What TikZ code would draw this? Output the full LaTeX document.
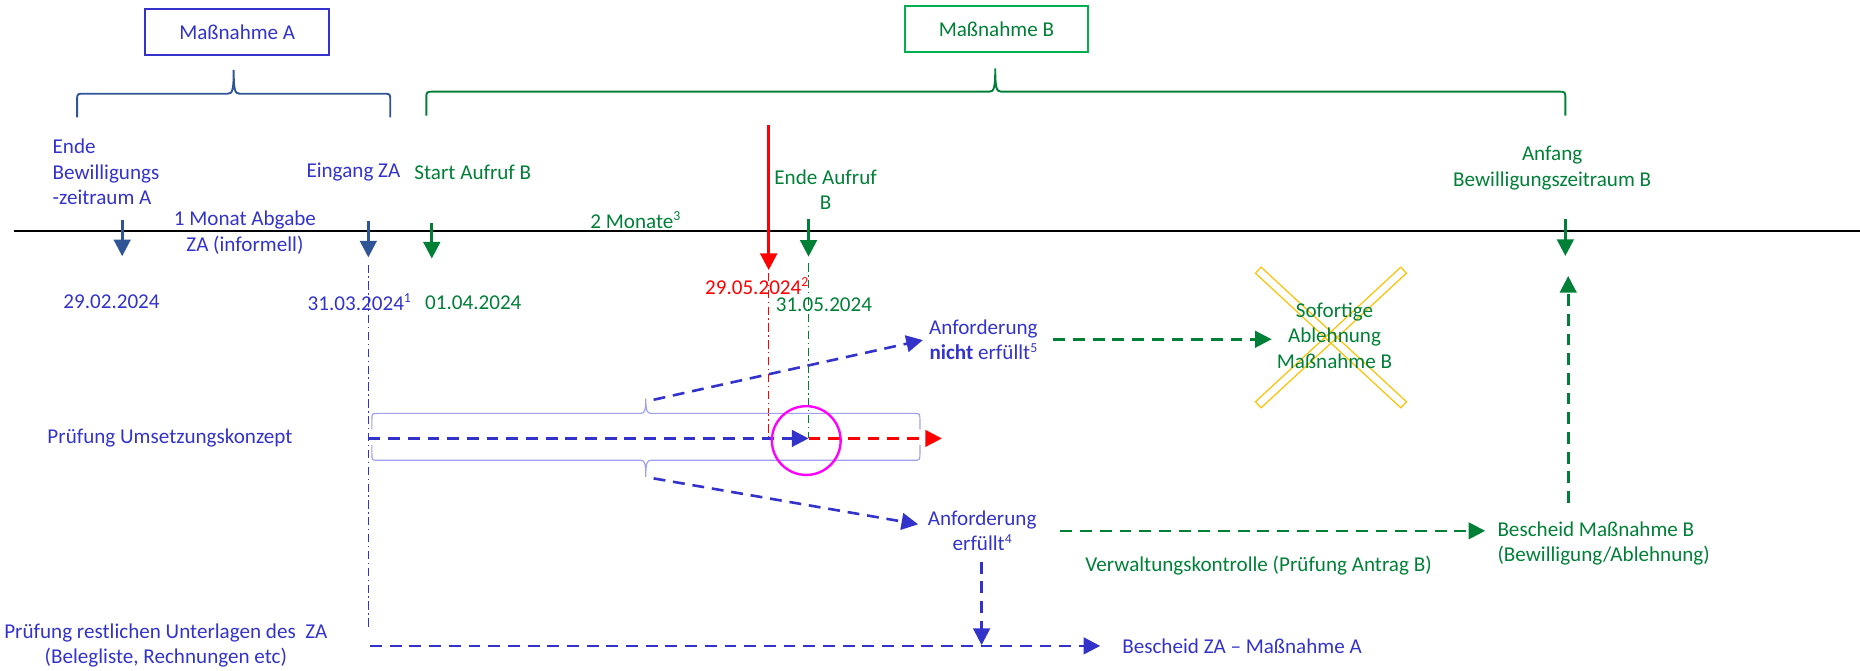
\documentclass[tikz,border=0pt]{standalone}
\usepackage{fontspec}
\setmainfont{Carlito}
\usetikzlibrary{arrows.meta}
\definecolor{tblue}{RGB}{51,51,204}
\definecolor{dblue}{RGB}{47,85,151}
\definecolor{tgreen}{RGB}{0,128,55}
\definecolor{bgreen}{RGB}{0,176,80}
\definecolor{lav}{RGB}{160,160,235}
\definecolor{xyellow}{RGB}{255,192,0}
\definecolor{mag}{RGB}{255,0,255}
\definecolor{tred}{RGB}{255,0,0}
\newcommand{\fnref}[1]{\raisebox{0.75ex}{\fontsize{5.8}{6}\selectfont #1}}
\begin{document}
\begin{tikzpicture}[x=0.5pt,y=-0.5pt,
  font=\fontsize{8.9}{10.8}\selectfont,
  lbl/.style={inner sep=0pt, align=center},
  tipA/.style={-{Triangle[length=7pt,width=7pt]}},
  tlarrow/.style={line width=1.2pt, tipA},
  dsh/.style={line width=1.1pt, dash pattern=on 5pt off 3.3pt, tipA},
  ddot/.style={line width=0.5pt, dash pattern=on 3.5pt off 1.5pt on 0.6pt off 1.5pt},
  brc/.style={line width=0.8pt},
  capsule/.style={line width=0.5pt, draw=lav},
  boxed/.style={draw, line width=0.85pt, minimum width=77.5pt, minimum height=19.5pt, inner sep=0pt},
  xbar/.style={draw=xyellow, line width=0.5pt, minimum width=83.5pt, minimum height=3.5pt, inner sep=0pt}
]
\useasboundingbox (0,0) rectangle (1568,565);

% boxes
\node[boxed, draw=tblue, text=tblue] (mA) at (200,27) {Maßnahme A};
\node[boxed, draw=bgreen, text=tgreen] (mB) at (840,24.5) {Maßnahme B};

% braces
\draw[brc, dblue] (65,99) -- (65,85) .. controls (65,79) .. (71,79) -- (192,79)
  .. controls (196,79) and (197,76) .. (197,59)
  .. controls (197,76) and (198,79) .. (202,79) -- (323,79)
  .. controls (329,79) .. (329,85) -- (329,99);
\draw[brc, tgreen] (359.4,97.5) -- (359.4,83.5) .. controls (359.4,77.3) .. (365.4,77.3) -- (834,77.3)
  .. controls (838,77.3) and (839,74) .. (839,57.7)
  .. controls (839,74) and (840,77.3) .. (844,77.3) -- (1313.6,77.3)
  .. controls (1319.6,77.3) .. (1319.6,83.5) -- (1319.6,97.5);

% timeline
\coordinate (tlL) at (12,195);
\coordinate (tlR) at (1568,195);
\draw[line width=1pt] (tlL) -- (tlR);

% labels above
\node[lbl, anchor=west, align=left, text=tblue] (endeA) at (44,145) {Ende\\Bewilligungs\\-zeitraum A};
\node[lbl, anchor=west, text=tblue] (eing) at (258,145) {Eingang ZA};
\node[lbl, anchor=west, text=tgreen] (start) at (349,145) {Start Aufruf B};
\node[lbl, text=tblue] (monat) at (206.5,196) {1 Monat Abgabe\\ZA (informell)};
\node[lbl, anchor=east, text=tgreen] (zwei) at (574,185.5) {2 Monate\fnref{3}};
\node[lbl, text=tgreen] (endeB) at (696,160) {Ende Aufruf\\B};
\node[lbl, text=tgreen] (anfang) at (1308.5,141.5) {Anfang\\Bewilligungszeitraum B};

% timeline arrows
\coordinate (a1s) at (103,185.5);   \coordinate (a1e) at (103,216);
\coordinate (a2s) at (310.5,186);   \coordinate (a2e) at (310.5,217);
\coordinate (a3s) at (364,188);     \coordinate (a3e) at (364,218);
\coordinate (a4s) at (648,105.4);   \coordinate (a4e) at (648,227.7);
\coordinate (a5s) at (681.6,185);   \coordinate (a5e) at (681.6,216.4);
\coordinate (a6s) at (1319.6,184.7);\coordinate (a6e) at (1319.6,215.8);
\draw[tlarrow, dblue] (a1s) -- (a1e);
\draw[tlarrow, dblue] (a2s) -- (a2e);
\draw[tlarrow, tgreen] (a3s) -- (a3e);
\draw[tlarrow, tred, line width=1.3pt] (a4s) -- (a4e);
\draw[tlarrow, tgreen] (a5s) -- (a5e);
\draw[tlarrow, tgreen] (a6s) -- (a6e);

% dates
\node[lbl, text=tblue] (d1) at (94,254.5) {29.02.2024};
\node[lbl, anchor=west, text=tblue] (d2) at (259,254.5) {31.03.2024\fnref{1}};
\node[lbl, anchor=west, text=tgreen] (d3) at (358,255) {01.04.2024};
\node[lbl, anchor=west, text=tred] (d4) at (594,241) {29.05.2024\fnref{2}};
\node[lbl, text=tgreen] (d5) at (694.6,257) {31.05.2024};

% dash-dot guides
\coordinate (g1s) at (310.6,223); \coordinate (g1e) at (310.6,531);
\coordinate (g2s) at (647.6,230); \coordinate (g2e) at (647.6,369.6);
\coordinate (g3s) at (681.6,222); \coordinate (g3e) at (681.6,369.6);
\draw[ddot, tblue] (g1s) -- (g1e);
\draw[ddot, tred] (g2s) -- (g2e);
\draw[ddot, tgreen] (g3s) -- (g3e);

% capsule brackets
\draw[capsule] (313.5,362) -- (313.5,354) .. controls (313.5,348.5) .. (319,348.5) -- (540,348.5)
  .. controls (543.5,348.5) and (544.4,346) .. (544.4,336)
  .. controls (544.4,346) and (545.3,348.5) .. (549,348.5) -- (770,348.5)
  .. controls (775.5,348.5) .. (775.5,354) -- (775.5,362);
\draw[capsule] (313.5,375) -- (313.5,382.5) .. controls (313.5,388) .. (319,388) -- (540,388)
  .. controls (543.5,388) and (544.4,390.5) .. (544.4,402)
  .. controls (544.4,390.5) and (545.3,388) .. (549,388) -- (770,388)
  .. controls (775.5,388) .. (775.5,382.5) -- (775.5,375);

% Pruefung Umsetzungskonzept
\node[lbl, text=tblue] (pu) at (143.3,369.6) {Prüfung Umsetzungskonzept};
\coordinate (puS) at (310.6,369.6);
\coordinate (hit) at (681.6,369.6);
\coordinate (redE) at (794,369.6);
\draw[dsh, tblue] (puS) -- (hit);
\draw[dsh, tred] (hit) -- (redE);
\node[draw=mag, line width=1pt, circle, minimum size=29pt, inner sep=0pt] (circ) at (679.7,371.4) {};

% branches
\coordinate (upS) at (551,337);    \coordinate (upE) at (778,286.7);
\coordinate (loS) at (551,403.3);  \coordinate (loE) at (774,442);
\draw[dsh, tblue] (upS) -- (upE);
\draw[dsh, tblue] (loS) -- (loE);
\node[lbl, text=tblue] (nicht) at (829,286.3) {Anforderung\\\textbf{nicht} erfüllt\fnref{5}};
\node[lbl, text=tblue] (erf) at (828,447.5) {Anforderung\\erfüllt\fnref{4}};

% Sofortige Ablehnung with X
\node[xbar, rotate=-42.8] (xb1) at (1122,284.5) {};
\node[xbar, rotate=42.8] (xb2) at (1122,284.5) {};
\node[lbl, text=tgreen] (sof) at (1125,283) {Sofortige\\Ablehnung\\Maßnahme B};
\coordinate (gnS) at (888,286);  \coordinate (gnE) at (1072,286);
\draw[dsh, tgreen] (gnS) -- (gnE);

% Verwaltungskontrolle
\coordinate (gvS) at (894,447.5); \coordinate (gvE) at (1252,447.5);
\draw[dsh, tgreen] (gvS) -- (gvE);
\node[lbl, text=tgreen] (verw) at (1061,476.4) {Verwaltungskontrolle (Prüfung Antrag B)};
\node[lbl, anchor=west, align=left, text=tgreen] (bescB) at (1262,458.2) {Bescheid Maßnahme B\\(Bewilligung/Ablehnung)};
\coordinate (guS) at (1322,424); \coordinate (guE) at (1322,232.7);
\draw[dsh, tgreen] (guS) -- (guE);

% bottom row
\coordinate (bdS) at (827.5,473.6); \coordinate (bdE) at (827.5,543.8);
\draw[dsh, tblue] (bdS) -- (bdE);
\node[lbl, text=tblue] (pr) at (139.8,544.3) {Prüfung restlichen Unterlagen des\ \ ZA\\(Belegliste, Rechnungen etc)};
\coordinate (bS) at (312,544.5); \coordinate (bE) at (927.5,544.5);
\draw[dsh, tblue] (bS) -- (bE);
\node[lbl, anchor=west, text=tblue] (bescA) at (945.7,544.7) {Bescheid ZA – Maßnahme A};
\end{tikzpicture}
\end{document}
